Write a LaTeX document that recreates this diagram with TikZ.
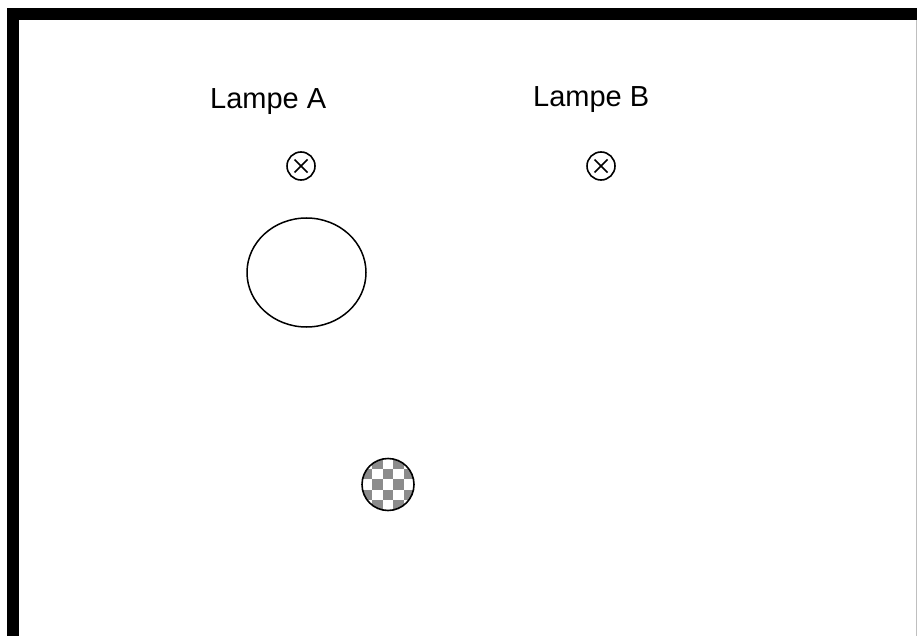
\documentclass[tikz,border=0pt]{standalone}
\usepackage{fontspec}
\setmainfont{Liberation Sans}
\begin{document}
\begin{tikzpicture}[x=1pt,y=-1pt,
  lbl/.style={anchor=base west,inner sep=0pt,font=\fontsize{29}{34}\selectfont},
  lamp/.style={circle,draw,line width=1.6pt,minimum size=28pt,inner sep=0pt,
    path picture={\draw[line width=1.6pt] ([shift={(-6.5,-6.5)}]path picture bounding box.center) -- ([shift={(6.5,6.5)}]path picture bounding box.center);
                  \draw[line width=1.6pt] ([shift={(-6.5,6.5)}]path picture bounding box.center) -- ([shift={(6.5,-6.5)}]path picture bounding box.center);}},
  bar/.style={fill=black},
  checker/.style={fill=gray!90}]
\useasboundingbox (0,0) rectangle (917,636);
\fill[white] (0,0) rectangle (917,636);
% frame
\fill[bar] (8,8) rectangle (917,20);
\fill[bar] (7,8) rectangle (19,636);
\draw[gray!50,line width=1pt] (916,20) -- (916,636);
% labels
\node[lbl] (la) at (210,109) {Lampe A};
\node[lbl] (lb) at (533,107) {Lampe B};
% lamps
\node[lamp] (lampA) at (301,166) {};
\node[lamp] (lampB) at (601,166) {};
% ellipse
\draw[line width=1.5pt] (306.5,272.5) ellipse (59.5 and 54.5);
% checkered ball
\begin{scope}
\clip (388,484.5) circle (26);
\foreach \i in {0,...,5}{
  \foreach \j in {0,...,5}{
    \pgfmathparse{int(mod(\i+\j,2))}
    \ifnum\pgfmathresult=1
      \fill[checker] (362+\i*10.4,458.5+\j*10.4) rectangle ++(10.4,10.4);
    \fi
  }
}
\end{scope}
\node[circle,draw,line width=1.6pt,minimum size=52pt,inner sep=0pt] (ball) at (388,484.5) {};
\end{tikzpicture}
\end{document}
